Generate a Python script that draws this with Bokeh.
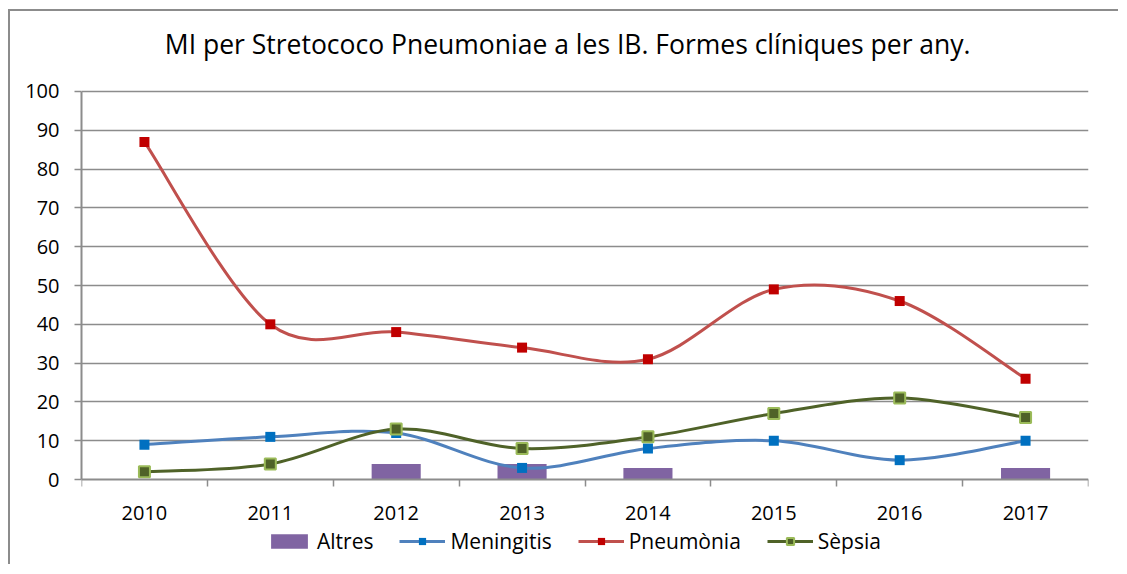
from bokeh.plotting import figure
from bokeh.models import (ColumnDataSource, FixedTicker, Legend, LegendItem, Range1d, Label)
from bokeh.core.properties import value
from bokeh.embed import file_html
from bokeh.resources import INLINE

# ---- data ----
years = ["2010", "2011", "2012", "2013", "2014", "2015", "2016", "2017"]
altres = [0, 0, 4, 4, 3, 0, 0, 3]
meningitis = [9, 11, 12, 3, 8, 10, 5, 10]
pneumonia = [87, 40, 38, 34, 31, 49, 46, 26]
sepsia = [2, 4, 13, 8, 11, 17, 21, 16]

title_text = "MI per Stretococo Pneumoniae a les IB.  Formes clíniques per any."
FONT = "Open Sans"

xs = [i + 0.5 for i in range(len(years))]

# frame fills the figure; value axis 0..100 sits inside with room for title/legend
p = figure(width=1110, height=555, output_backend="svg", toolbar_location=None,
           x_range=Range1d(0, len(years)), y_range=Range1d(-22.4, 120.6),
           min_border_left=71, min_border_right=32, min_border_top=0, min_border_bottom=0)
p.styles = {"border-left": "2px solid #8c8c8c", "border-top": "2px solid #8c8c8c",
            "margin-left": "8px", "margin-top": "9px"}
p.outline_line_color = None
p.background_fill_color = "white"
p.border_fill_color = "white"

title = Label(x=len(years) / 2 - 0.11, y=112.2, text=title_text, text_align="center",
              text_baseline="middle", text_font=FONT, text_font_size="26.5px",
              text_color="#000000")
p.add_layout(title)

# axes
GRAY = "#8c8c8c"
p.yaxis.ticker = FixedTicker(ticks=list(range(0, 101, 10)))
p.yaxis.bounds = (0, 100)
p.yaxis.axis_line_color = GRAY
p.yaxis.axis_line_width = 2
p.yaxis.major_tick_line_color = GRAY
p.yaxis.major_tick_line_width = 1.5
p.yaxis.major_tick_out = 7
p.yaxis.major_tick_in = 0
p.yaxis.minor_tick_line_color = None
p.yaxis.major_label_standoff = 15
p.yaxis.major_label_text_font = FONT
p.yaxis.major_label_text_font_size = "20px"
p.yaxis.major_label_text_color = "#000000"

p.xaxis.fixed_location = 0
p.xaxis.ticker = FixedTicker(ticks=xs, minor_ticks=list(range(0, len(years) + 1)))
p.xaxis.major_label_overrides = {x: y for x, y in zip(xs, years)}
p.xaxis.axis_line_color = GRAY
p.xaxis.axis_line_width = 2
p.xaxis.major_tick_line_color = None
p.xaxis.major_tick_out = 0
p.xaxis.major_tick_in = 0
p.xaxis.minor_tick_line_color = GRAY
p.xaxis.minor_tick_line_width = 1.5
p.xaxis.minor_tick_out = 7
p.xaxis.minor_tick_in = 0
p.xaxis.major_label_standoff = 19
p.xaxis.major_label_text_font = FONT
p.xaxis.major_label_text_font_size = "20px"
p.xaxis.major_label_text_color = "#000000"

p.xgrid.grid_line_color = None
p.ygrid.ticker = FixedTicker(ticks=list(range(10, 101, 10)))
p.ygrid.grid_line_color = GRAY
p.ygrid.grid_line_width = 1.5

# bars
bars = p.vbar(x=xs, top=altres, width=0.39, fill_color="#8064A2", line_color=None)


def smooth_source(vals):
    n = len(vals)
    d = dict(x0=[], y0=[], x1=[], y1=[], cx0=[], cy0=[], cx1=[], cy1=[])
    for i in range(n - 1):
        a = i - 1 if i > 0 else i
        b = i + 2 if i + 2 < n else i + 1
        d["x0"].append(xs[i]); d["y0"].append(vals[i])
        d["x1"].append(xs[i + 1]); d["y1"].append(vals[i + 1])
        d["cx0"].append(xs[i] + (xs[i + 1] - xs[a]) / 6)
        d["cy0"].append(vals[i] + (vals[i + 1] - vals[a]) / 6)
        d["cx1"].append(xs[i + 1] - (xs[b] - xs[i]) / 6)
        d["cy1"].append(vals[i + 1] - (vals[b] - vals[i]) / 6)
    return ColumnDataSource(d)


series = [
    ("Meningitis", meningitis, "#4F81BD", "#0070C0", "#0070C0", 10),
    ("Pneumònia", pneumonia, "#C0504D", "#C00000", "#C00000", 10),
    ("Sèpsia", sepsia, "#4F6228", "#4F6228", "#9BBB59", 11),
]

items = [LegendItem(label=value("Altres"), renderers=[bars])]
line_rs = []
for name, vals, lc, mfill, mline, msize in series:
    r = p.bezier(x0="x0", y0="y0", x1="x1", y1="y1", cx0="cx0", cy0="cy0",
                 cx1="cx1", cy1="cy1", source=smooth_source(vals),
                 line_color=lc, line_width=3)
    line_rs.append((name, r, vals, mfill, mline, msize))

for name, r, vals, mfill, mline, msize in line_rs:
    m = p.scatter(x=xs, y=vals, marker="square", size=msize, fill_color=mfill,
                  line_color=mline, line_width=2 if mline != mfill else 0)
    items.append(LegendItem(label=value(name), renderers=[r, m]))

legend = Legend(items=items, location=(185, 11), orientation="horizontal",
                border_line_color=None, background_fill_alpha=0,
                padding=0, margin=0, spacing=26, label_standoff=5,
                glyph_width=46, glyph_height=18, label_height=22,
                label_text_font=FONT, label_text_font_size="21px",
                label_text_color="#000000")
p.add_layout(legend, "center")

open("out.html", "w").write(file_html(p, INLINE))
